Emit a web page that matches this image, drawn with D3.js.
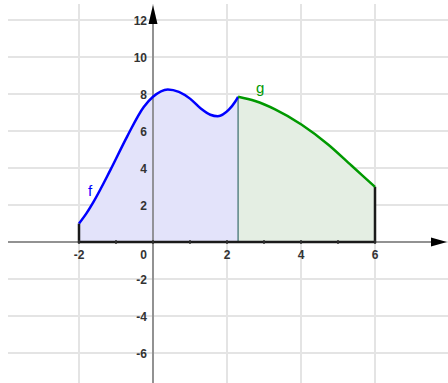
<!DOCTYPE html>
<html>
<head>
<meta charset="utf-8">
<script src="https://cdn.jsdelivr.net/npm/d3@7"></script>
<style>
  body { margin: 0; background: #fff; }
  svg { display: block; }
</style>
</head>
<body>
<script>
const width = 448;
const height = 383;

// values
const fX = [-2, -1.8, -1.6, -1.15, -0.7, -0.25, 0, 0.4, 0.7, 1.0, 1.3, 1.55, 1.75, 2.05, 2.22, 2.3];
const fY = [1.0, 1.55, 2.2, 3.9, 5.7, 7.3, 7.85, 8.25, 8.12, 7.75, 7.2, 6.88, 6.8, 7.15, 7.58, 7.85];
const gX = [2.3, 2.76, 3.3, 4.02, 4.74, 5.37, 6];
const gY = [7.85, 7.62, 7.17, 6.34, 5.26, 4.12, 2.98];
const xTicks = [-2, 0, 2, 4, 6];
const yTicks = [-6, -4, -2, 2, 4, 6, 8, 10, 12];
const xMinor = [-1, 1, 3, 5];
const xGrid = [-2, 0, 2, 4, 6, 8];
const yGrid = [-6, -4, -2, 0, 2, 4, 6, 8, 10, 12];

const x = d3.scaleLinear().domain([-2, 6]).range([79, 375]);
const y = d3.scaleLinear().domain([0, 12]).range([242, 20]);

const svg = d3.select("body").append("svg")
  .attr("width", width)
  .attr("height", height);

// grid
svg.append("g")
  .attr("stroke", "#e4e4e4")
  .attr("stroke-width", 2)
  .selectAll("line.h")
  .data(yGrid)
  .join("line")
  .attr("x1", 8).attr("x2", width)
  .attr("y1", d => y(d)).attr("y2", d => y(d));

svg.append("g")
  .attr("stroke", "#e4e4e4")
  .attr("stroke-width", 2)
  .selectAll("line.v")
  .data(xGrid)
  .join("line")
  .attr("x1", d => x(d)).attr("x2", d => x(d))
  .attr("y1", 4).attr("y2", height);

const fPts = fX.map((v, i) => [v, fY[i]]);
const gPts = gX.map((v, i) => [v, gY[i]]);

const area = d3.area()
  .x(d => x(d[0]))
  .y0(y(0))
  .y1(d => y(d[1]))
  .curve(d3.curveMonotoneX);

const line = d3.line()
  .x(d => x(d[0]))
  .y(d => y(d[1]))
  .curve(d3.curveMonotoneX);

svg.append("path").datum(fPts)
  .attr("fill", "#e3e3fa")
  .attr("d", area);

svg.append("path").datum(gPts)
  .attr("fill", "#e4eee3")
  .attr("d", area);

// axes
svg.append("line")
  .attr("x1", 8).attr("x2", 436)
  .attr("y1", y(0)).attr("y2", y(0))
  .attr("stroke", "#777").attr("stroke-width", 1.5);

svg.append("line")
  .attr("x1", x(0)).attr("x2", x(0))
  .attr("y1", 20).attr("y2", height)
  .attr("stroke", "#777").attr("stroke-width", 1.5);

svg.append("path")
  .attr("d", `M447,${y(0)}L431,${y(0) - 4.5}L431,${y(0) + 4.5}Z`)
  .attr("fill", "#000");

svg.append("path")
  .attr("d", `M${x(0)},5L${x(0) - 4.5},24L${x(0) + 4.5},24Z`)
  .attr("fill", "#000");

// divider between f and g
svg.append("line")
  .attr("x1", x(gX[0])).attr("x2", x(gX[0]))
  .attr("y1", y(0)).attr("y2", y(gY[0]))
  .attr("stroke", "#5b8585").attr("stroke-width", 1.5);

// region boundary
svg.append("path")
  .attr("d", `M${x(fX[0])},${y(fY[0])}L${x(fX[0])},${y(0)}L${x(6)},${y(0)}L${x(6)},${y(gY[gY.length - 1])}`)
  .attr("fill", "none")
  .attr("stroke", "#1a1a1a")
  .attr("stroke-width", 2.5);

// minor ticks
svg.append("g")
  .attr("stroke", "#333")
  .attr("stroke-width", 1.5)
  .selectAll("line")
  .data(xTicks.concat(xMinor))
  .join("line")
  .attr("x1", d => x(d)).attr("x2", d => x(d))
  .attr("y1", y(0) - 2).attr("y2", y(0) + 2);

svg.append("path").datum(fPts)
  .attr("fill", "none")
  .attr("stroke", "#0000ff")
  .attr("stroke-width", 2.5)
  .attr("d", line);

svg.append("path").datum(gPts)
  .attr("fill", "none")
  .attr("stroke", "#009900")
  .attr("stroke-width", 2.5)
  .attr("d", line);

// tick labels
const lab = svg.append("g")
  .attr("font-family", "Liberation Sans, Arial, sans-serif")
  .attr("font-size", 12)
  .attr("font-weight", "bold")
  .attr("fill", "#333");

lab.selectAll("text.x")
  .data(xTicks.filter(d => d !== 0))
  .join("text")
  .attr("x", d => x(d))
  .attr("y", y(0) + 17)
  .attr("text-anchor", "middle")
  .text(d => d);

lab.append("text")
  .attr("x", x(0) - 6)
  .attr("y", y(0) + 17)
  .attr("text-anchor", "end")
  .text("0");

lab.selectAll("text.y")
  .data(yTicks)
  .join("text")
  .attr("x", x(0) - 6)
  .attr("y", d => y(d) + 4.5)
  .attr("text-anchor", "end")
  .text(d => d);

// function names
svg.append("text")
  .attr("x", 88).attr("y", 196)
  .attr("font-family", "Liberation Sans, Arial, sans-serif")
  .attr("font-size", 15)
  .attr("fill", "#0000ff")
  .text("f");

svg.append("text")
  .attr("x", 256).attr("y", 93)
  .attr("font-family", "Liberation Sans, Arial, sans-serif")
  .attr("font-size", 15)
  .attr("fill", "#009900")
  .text("g");
</script>
</body>
</html>
